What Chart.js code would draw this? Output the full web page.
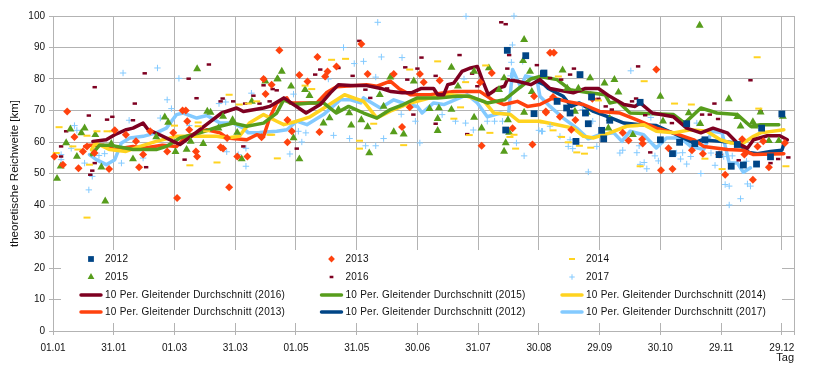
<!DOCTYPE html>
<html>
<head>
<meta charset="utf-8">
<script src="https://cdn.jsdelivr.net/npm/chart.js@4"></script>
<style>
	html, body { margin:0; padding:0; background:#fff; }
	#box { width:819px; height:370px; }
</style>
</head>
<body>
<div id="box"><canvas id="c" width="819" height="370"></canvas></div>
<script>
const tickLabels = ['01.01','31.01','01.03','31.03','01.05','31.05','30.06','31.07','30.08','29.09','30.10','29.11','29.12']

// [tag, km]
const pts2012 = [[224.4,89.1],[233.5,87.4],[242.2,81.7],[237.6,69],[223.6,63.8],[242.5,81.9],[260.3,81.4],[249,72.9],[253.7,70.8],[255.4,69.2],[264.4,65.8],[266,74.3],[258.3,60.2],[271,63.7],[272,61],[275,66.9],[263,69.2],[290,72.6],[300,60.7],[306,56.3],[309.5,59.9],[313,65.8],[317,59.5],[322,60.7],[329,56],[335,52.3],[338,59.2],[341,52.7],[347.5,53],[350,64.4],[360,68.9],[354.4,55.3]]
const pts2013 = [[0.7,55.4],[7,69.7],[4.9,52.8],[10.6,61.6],[12.6,51.7],[14.8,57],[16.8,58.6],[20.5,56.5],[27.7,51.4],[30.5,63.7],[36,62.3],[42.5,52],[44.5,56],[41,60.2],[48,63.4],[56.4,57],[59.4,62.9],[61.3,42.2],[64,70],[65.6,70],[66.3,66.6],[67.3,63.9],[70.6,57],[71.2,55.4],[82.8,58.3],[84,57.9],[86,61.3],[87,45.6],[91,55.4],[96,55.4],[103,61.5],[104,80],[105,75.2],[108,78.2],[111.8,89.1],[115.8,59.9],[115.8,67],[118,63.4],[121.7,81.3],[125.7,79.2],[130.6,87],[131.6,63.2],[134.4,80.8],[135.6,82.4],[140,84],[152.3,91.1],[155.4,81.6],[168.3,81.6],[172.4,64.8],[176.2,71],[181.2,81.6],[183.1,79],[191,79.5],[211.7,58.8],[216.7,81.9],[211,79],[227,64.4],[236.8,59.2],[237.6,74.5],[243.4,69.7],[245.5,88.3],[247.4,88.3],[247,74.3],[266.4,73.7],[250.4,68],[258,67],[256,63.9],[243.5,69.4],[281.4,62.9],[284.3,60.5],[291,60.9],[291.3,59.5],[298,83],[300.3,51],[306,51.4],[304,58],[315.6,57.4],[321,56.3],[332,49.6],[345.7,48],[353.6,52],[340.4,60.9],[341.5,56],[348,58.6],[350.8,60.2],[361.5,59.7],[329,56]]
const pts2014 = [[3,64.7],[1.6,56.5],[9.8,58.6],[12.3,57.6],[16.8,36],[18,52.8],[16.8,62],[21.7,63.4],[26.7,63.4],[29.6,63.4],[60,65.2],[67.6,52.6],[71.7,66.2],[71.7,65],[75.9,63.4],[81,53.5],[87,75],[92,71.9],[96.5,72.2],[100.6,72.9],[108,62.3],[110.8,54.8],[137.6,86.1],[144.5,86.4],[124.5,77.9],[127.8,76.8],[107.2,62.3],[151.4,60.4],[151.4,57.9],[158.4,65.8],[173.2,59],[176.2,83],[190,85.6],[198,67.4],[201.3,71],[203.8,79],[205.6,62.2],[213.7,84.3],[215.8,62.9],[227.7,62.3],[228.5,57.9],[225.7,61.6],[249.6,80.8],[269.4,73.2],[258.7,56.7],[262.5,56.3],[260,58.8],[265.6,58.2],[254.5,59.9],[251.2,61.6],[247,63.7],[242,66.2],[292,79.3],[307,72.2],[315.3,71.9],[290,52.3],[322,54.7],[330.5,51.4],[348.6,70.6],[347.8,86.9],[362,52.3],[287.5,65]]
const pts2015 = [[2,48.4],[3.8,52.3],[6.5,59.7],[8.6,64.1],[11.8,55.4],[14,62.9],[15.6,64.4],[20.9,62.3],[23.9,52],[25.8,41.2],[28.8,59.5],[39.5,54.6],[55.2,67.9],[56.9,66.2],[51,61.6],[60.5,56.9],[66,57.6],[68,60.2],[71.2,83.2],[74.2,59.5],[76.2,69.7],[77.8,69.4],[81.7,64.4],[84,68.1],[88.7,67],[91,63],[93.2,54.6],[98.2,72.9],[104.9,79.3],[111,80],[113,82.4],[110.8,80],[117.6,77.7],[121.7,54.6],[118.8,61.3],[124.5,76.6],[126.7,74.7],[133.6,66],[136.6,67.6],[141,70.3],[146.3,69.2],[147.3,65.3],[152.3,67],[155.4,64.8],[156.2,56.5],[161.4,75],[163.3,71.3],[166.6,80.6],[168.3,63.2],[173.2,62.5],[178.2,79.3],[186,70.6],[190,67.4],[190,63.6],[190.6,70.8],[196.8,83.7],[196.8,70.3],[200,77.7],[208,67.8],[208,82.4],[211.7,64.4],[215.3,83.5],[220.3,76.6],[222.8,80.3],[222.8,57],[223.6,59.7],[224.7,67],[225.3,63],[232.7,92.5],[232.2,85.8],[232.7,69.4],[235.6,82.4],[236.5,76],[251.7,82.8],[259.5,77],[265.3,80.3],[272.4,78.7],[277.3,79.8],[279.3,75.8],[274.3,64.4],[275,67.4],[257.8,69.7],[263.6,69.4],[254,77],[300,74.5],[301.3,66.6],[314,69.2],[319.4,97],[319.7,65.8],[333.8,73.7],[339.6,65],[345.7,66.4],[346.5,65],[349.5,69.5],[353.6,60.4],[358.5,60.4],[360.5,68.1],[338,68],[286.4,62.3]]
const pts2016 = [[4,58.6],[4,55.4],[6.5,63.4],[17.7,68.4],[20.6,77.4],[18.4,49.6],[19.4,50.9],[20.6,53.3],[26.7,67.1],[29.3,68],[40.4,72.2],[39.5,66.9],[45.3,81.8],[46,52],[65,54.4],[67,80.1],[70.9,73.9],[77,84.6],[82.8,72.9],[83.8,73.8],[89,72.9],[94.9,72.2],[99,74.7],[102,72.2],[104,78],[107,72.9],[108.5,76.8],[110.5,76.4],[94,58.6],[120.4,57.9],[129.5,81.4],[132,83],[141,83.5],[151.3,92.1],[148,81],[154.3,76.6],[156.7,74],[165,77],[174,83.7],[175,79.8],[180,83.3],[182,86.8],[189,81],[189,65.8],[178,68.7],[200.8,87.6],[209.6,77.7],[207,81.7],[204.6,62.5],[221.4,98],[223.6,97.4],[224.4,83.3],[239,84.4],[225.3,87.6],[255.4,81.4],[257.3,83.3],[251,79.8],[245.5,80.3],[269.4,73.7],[273,71.3],[276,70.3],[286,72.9],[288,73.8],[289,84],[292.5,68.5],[295,56.7],[305.7,66],[326.7,72.2],[320.6,68.7],[324.4,68.7],[328.5,67.3],[344.5,79.6],[349.5,69.7],[354.4,53.3],[358.2,54.6],[363.2,55.1],[338.7,54.2]]
const pts2017 = [[4,56],[4,54.4],[9,58],[10.6,65.2],[11.8,63.7],[15.6,53.3],[17.7,44.8],[19.4,49.1],[22.7,55.7],[25.5,56.3],[33.8,53.3],[34.6,81.9],[37.6,66.9],[44.5,54.9],[51.6,83.5],[53,67.6],[56.4,73.4],[58.5,70.6],[62.2,80.2],[67.3,65.2],[82,72.2],[85.3,72.7],[85.8,56.9],[91.5,56],[95.3,58],[95.3,52.3],[98,75.5],[117,56.2],[118.8,75.2],[121.2,63.4],[122.9,60],[124.9,62.9],[136,80],[138.6,62.1],[143.5,90],[146.5,61.1],[148.8,84.9],[153.4,85.6],[154.4,58.8],[159.4,58.8],[160.4,98],[162.2,87],[163.3,61.1],[159.4,80.6],[172.4,86.8],[172,68.8],[179,66.6],[181.2,59.7],[192.2,68.7],[198.8,66.6],[204,99.9],[203.8,66],[203,80],[207.6,63.8],[214.5,66.6],[218.1,66.6],[222,66.6],[227.7,100],[226.9,90.8],[226.4,85.3],[232,85.6],[228.9,59.7],[232.7,55.6],[240,63.7],[241.8,63.4],[226,81],[241.3,63.4],[245.5,65],[250.4,61.8],[255.4,60.7],[254.5,58.6],[256.7,57.9],[264.4,50.5],[268.6,58.6],[266.6,66.6],[261.6,70.3],[285.4,82.6],[280,56.5],[281.4,57.4],[288.4,56.6],[289.5,58.8],[290,52.9],[292,53.5],[293.3,51.5],[295.3,67.8],[297.3,55.6],[299,54],[308,56.5],[311,56.6],[310,54.6],[313,53],[315,55.4],[318,66],[320,50],[325,56.5],[327,52.6],[332,46.5],[334,46],[334,40],[339.6,42],[343,46.7],[344.5,46],[331.3,55.4],[335.5,55.6],[342.5,53.9]]

const avg2016 = [[19.7,60.2],[26.3,60.7],[30.5,62.3],[36.2,63.9],[39.5,64.4],[44.5,66],[47,63.9],[52.7,62.3],[59.4,60.2],[62.7,59.2],[69.3,62.3],[76.7,66],[83.3,69.2],[90.7,70.8],[94,69.7],[104,70.8],[107,71.3],[114,74],[125,69.2],[132,71.9],[137,75.6],[141,78.2],[147,77.9],[155,77.9],[162,77],[167,76],[172.5,75.6],[177,75.6],[182,77],[188,77],[190,75],[193,75],[195,78.2],[198,78.7],[202,82.4],[206.3,83.5],[209.6,84],[212,79.8],[215,75],[219.5,77],[223,77.7],[224.4,79.8],[229.4,79.3],[236,78.2],[240.5,79.8],[245.5,77],[257,75.6],[263,77],[269.4,77],[275,74.5],[282,71.9],[287.5,71.3],[290,72.4],[296,69.2],[306.5,68],[313,64.4],[320,62.9],[326,64.4],[333,62.9],[338,59.7],[343,58],[346,60.7],[352.8,62],[359,62],[362.7,60.7]]
const avg2015 = [[19,56],[23,59],[28,59],[39.5,57.6],[51,57.6],[56,58.6],[62.7,61.3],[72.5,62.9],[82.5,65],[89,66],[95.7,65],[104,66],[110.5,69.2],[114,73.4],[119,71.9],[127,72.4],[133.6,72.4],[140,69.2],[146,71.3],[153.4,69.2],[160,67.6],[166.6,70.3],[173,71.9],[180,74],[190,74],[199.6,74.5],[206,74.5],[214.5,72.4],[223,73.4],[230,77],[236,80],[240.5,80.8],[249,79.8],[255.4,76.6],[265,75.6],[272.7,75],[275,72.4],[279,72.9],[285,69.2],[296.6,69],[306.5,68.7],[312,66],[320,70.8],[328,69.2],[338,68.7],[344.5,65],[349.5,65.5],[358.5,65.5]]
const avg2014 = [[19,57.5],[21,59.7],[28,57.6],[36,57],[43,58.6],[51,60.2],[61,61.8],[71,61.8],[81,61.8],[86,61.3],[92,61.8],[97,66],[104,68.7],[110.5,66.6],[114,65.5],[120.4,66.6],[127,68],[135,71.3],[144,75],[153.4,72.9],[160,67.6],[166.6,69.8],[176.5,72.4],[186.4,74],[196,75],[204.6,74.5],[213,72.9],[217.8,69.2],[226,68.7],[230,66.6],[240.5,66.6],[249,65.5],[257,64.4],[262,61.8],[267,61.3],[275,62.9],[283.4,65],[291.7,65.5],[298,63.4],[306.5,62.9],[315,63.9],[323,63.4],[329.6,60.7],[334.6,59.7],[341,59.7],[346,61.8],[349.5,62.9],[361,63.9]]
const avg2013 = [[15.6,58.6],[18,59],[24.7,59],[30.5,57.6],[39.5,58.6],[44.5,58],[54,59],[61,58.6],[66,61.8],[76,63.9],[82.5,62.9],[86,61.3],[95.7,60.7],[100.6,62.3],[104,61.8],[107,67.6],[110.5,72.4],[115.5,74],[117,72.4],[130.3,72.4],[135,75.6],[140,77.5],[155,78.2],[160,77.7],[166.6,79.3],[170.8,77],[176.5,75],[186.4,75],[198,76],[211,76],[217,73.4],[222.8,71.9],[229.4,72.9],[234.3,71.3],[240.5,71.9],[247,74],[253.7,72.9],[262,71.9],[270,69.7],[280,69.2],[288.4,67],[298,64.4],[306.5,62.9],[316.5,60.7],[321.4,58.6],[333,57.6],[341,57.4],[346,56],[361,56.3]]
const avg2012 = [[239,79.3],[242.6,78.2],[244.6,77],[252,74.5],[256,71.3],[260,72.4],[267,69.7],[274.3,68],[282,66],[290,65.5],[298,65.2],[308,62.3],[316.5,59.7],[320.6,60.7],[329.6,60.2],[338,59.7],[343.7,56.7],[348,56.3],[354.4,57],[360,57.4],[361,59.2]]
const avg2017 = [[18,56],[21.4,54.4],[26.3,52.8],[30.5,54.4],[33.8,59.7],[38,61.3],[44.5,61.8],[51,62.9],[56,64.4],[61,68.7],[64.3,69.2],[71,67.6],[76,68.4],[82.5,66],[89,66],[94,64.4],[96.5,62.9],[102,63],[110.5,63.4],[115.5,63.9],[120.4,66.6],[125.4,65.5],[133.6,68.7],[142,73.4],[147,73.4],[152,72.4],[153.4,74],[161.7,70.8],[168.3,73.4],[175,71.9],[180,71.3],[182.3,69.2],[188,72.4],[193,71.9],[204.6,75],[209.6,72.4],[214.5,68],[221,69.2],[225,68.7],[227,83],[231,77.5],[233.5,81],[239,80],[240.5,74.5],[245.5,71.3],[252,67.6],[258.7,64.4],[264.4,61],[270,62.3],[277,62.9],[281,60.2],[285,63.4],[291.7,62.3],[298,58.1],[303,61.3],[310,61.3],[315,58.6],[321.4,57.6],[325.5,63.4],[330.5,62.9],[334,53.3],[338,53.3],[341,50.4],[344.5,51.8]]

const dot = (label, data, color, pointStyle, pointRadius, pointBorderWidth) => ({
	label, data,
	showLine: false,
	pointStyle, pointRadius, pointBorderWidth,
	pointBackgroundColor: color,
	pointBorderColor: color,
	pointHoverRadius: pointRadius,
})
const avg = (year, data, color) => ({
	label: `10 Per. Gleitender Durchschnitt (${year})`,
	data,
	showLine: true,
	borderColor: color,
	backgroundColor: color,
	borderWidth: 3.5,
	borderJoinStyle: 'round',
	borderCapStyle: 'round',
	tension: 0,
	pointRadius: 0,
})

// legend sits in a white box on top of the grid, 3 columns
const legendBox = {
	id: 'legendBox',
	beforeDatasetsDraw: a => {
		const ctx = a.ctx
		ctx.save()
		ctx.fillStyle = '#fff'
		ctx.fillRect(61, 250, 721, 73)
		ctx.restore()
	},
	afterDatasetsDraw: a => {
		const ctx = a.ctx
		const rows = [259, 277, 295, 312]
		ctx.save()
		ctx.font = '10px "Liberation Sans"'
		ctx.letterSpacing = '0.25px'
		ctx.textBaseline = 'middle'
		a.data.datasets.forEach((d, i) => {
			const x = 91 + (i % 3) * 240.5
			const y = rows[Math.floor(i / 3)]
			if (d.showLine) {
				ctx.strokeStyle = d.borderColor
				ctx.lineWidth = 3.5
				ctx.lineCap = 'round'
				ctx.beginPath()
				ctx.moveTo(x - 10, y)
				ctx.lineTo(x + 10, y)
				ctx.stroke()
			} else {
				ctx.fillStyle = d.pointBackgroundColor
				ctx.strokeStyle = d.pointBorderColor
				ctx.lineWidth = d.pointBorderWidth
				Chart.helpers.drawPoint(ctx, {pointStyle:d.pointStyle, radius:d.pointRadius * 0.85, borderWidth:d.pointBorderWidth, rotation:0}, x, y)
			}
			ctx.fillStyle = '#111'
			ctx.fillText(d.label, x + 14, y + 0.5)
		})
		ctx.restore()
	}
}

new Chart(document.getElementById('c'), {
	type: 'scatter',
	plugins: [legendBox],
	data: {
		datasets: [
			dot('2012', pts2012, '#004586', 'rect', 4.8, 0),
			dot('2013', pts2013, '#ff420e', 'rectRot', 4, 0),
			dot('2014', pts2014, '#ffd320', 'line', 3.5, 2),
			dot('2015', pts2015, '#579d1c', 'triangle', 4.6, 0),
			dot('2016', pts2016, '#7e0021', 'line', 2.2, 2.5),
			dot('2017', pts2017, '#83caff', 'cross', 3.2, 1),
			avg(2016, avg2016, '#7e0021'),
			avg(2015, avg2015, '#579d1c'),
			avg(2014, avg2014, '#ffd320'),
			avg(2013, avg2013, '#ff420e'),
			avg(2012, avg2012, '#004586'),
			avg(2017, avg2017, '#83caff'),
		]
	},
	options: {
		responsive: false,
		animation: false,
		clip: false,
		layout: { padding: { left:0, right:25, top:16, bottom:0 } },
		plugins: {
			legend: { display: false },
			tooltip: { enabled: false },
		},
		scales: {
			x: {
				type: 'linear',
				min: 0,
				max: 366,
				afterFit: a => { a.height = 39 },
				afterBuildTicks: a => {
					a.ticks = tickLabels.map((t, i) => ({value: i * 30}))
					a.ticks.push({value: 366})
				},
				title: {
					display: true, text: 'Tag', align: 'end', color: '#111',
					font: { family: '"Liberation Sans"', size: 11 },
					padding: { top:0, bottom:5 },
				},
				border: { color: '#b3b3b3' },
				grid: { color: '#b3b3b3', tickLength: 4, tickColor: '#b3b3b3' },
				ticks: {
					autoSkip: false,
					maxRotation: 0,
					color: '#111',
					padding: 7,
					font: { family: '"Liberation Sans"', size: 10 },
					callback: v => tickLabels[v / 30] ?? '',
				},
			},
			y: {
				min: 0,
				max: 100,
				afterFit: a => { a.width = 53 },
				title: {
					display: true, text: 'theoretische Reichweite [km]', color: '#111',
					font: { family: '"Liberation Sans"', size: 11.5 },
					padding: { top:8, bottom:0 },
				},
				border: { color: '#b3b3b3' },
				grid: { color: '#b3b3b3', tickLength: 4, tickColor: '#b3b3b3' },
				ticks: {
					stepSize: 10,
					color: '#111',
					padding: 4,
					font: { family: '"Liberation Sans"', size: 10 },
				},
			},
		},
	},
})
</script>
</body>
</html>
